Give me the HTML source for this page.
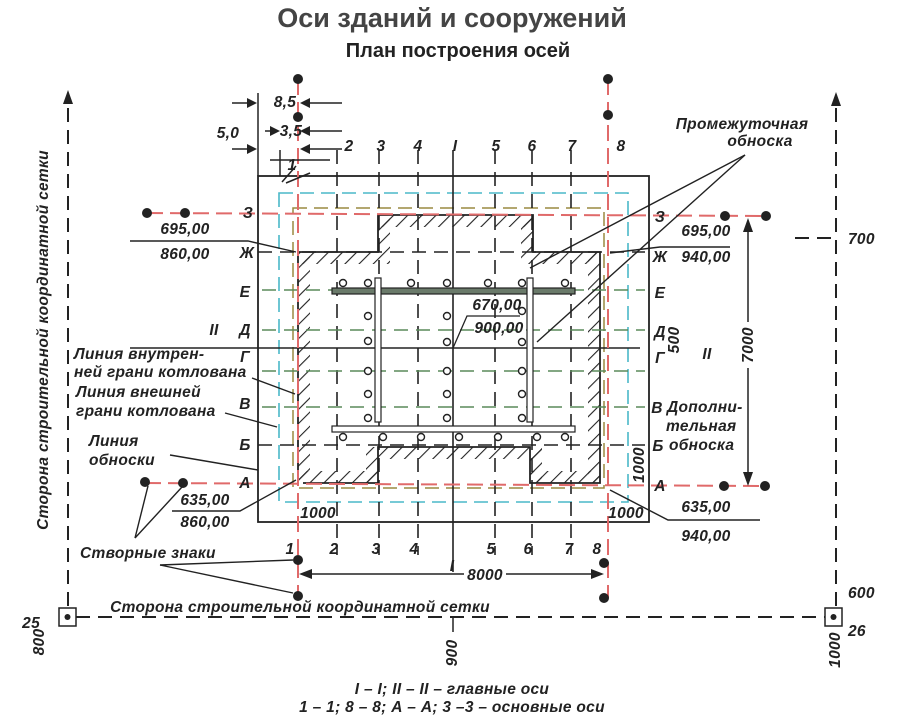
<!DOCTYPE html>
<html><head><meta charset="utf-8"><style>
html,body{margin:0;padding:0;background:#fff}
svg{display:block}
text{font-family:"Liberation Sans",sans-serif;font-weight:bold;font-style:italic;fill:#222;font-size:15.5px;letter-spacing:0.3px}
</style></head><body>
<svg width="924" height="720" viewBox="0 0 924 720" xmlns="http://www.w3.org/2000/svg">
<defs>
<pattern id="h" width="10" height="10" patternUnits="userSpaceOnUse" patternTransform="rotate(45)">
<line x1="0" y1="0" x2="0" y2="10" stroke="#222" stroke-width="2.2"/>
</pattern>
</defs>
<text x="452" y="27" text-anchor="middle" style="font-size:27px;font-style:normal;fill:#444;letter-spacing:0">Оси зданий и сооружений</text>
<text x="458" y="57" text-anchor="middle" style="font-size:20px;font-style:normal;fill:#222;letter-spacing:0">План построения осей</text>

<g stroke="#222" stroke-width="2" stroke-dasharray="14 8" fill="none">
<line x1="68" y1="108" x2="68" y2="606"/>
<line x1="836" y1="108" x2="836" y2="606"/>
<line x1="76" y1="617" x2="826" y2="617"/>
<line x1="795" y1="238" x2="836" y2="238"/>
</g>
<polygon points="68,90 63,104 73,104" fill="#222"/>
<polygon points="836,92 831,106 841,106" fill="#222"/>
<rect x="59" y="608" width="17" height="18" fill="#fff" stroke="#222" stroke-width="1.5"/>
<circle cx="67.5" cy="617" r="3" fill="#222"/>
<rect x="825" y="608" width="17" height="18" fill="#fff" stroke="#222" stroke-width="1.5"/>
<circle cx="833.5" cy="617" r="3" fill="#222"/>
<line x1="453" y1="617" x2="453" y2="632" stroke="#222" stroke-width="1.5"/>
<text x="48" y="340" transform="rotate(-90 48 340)" text-anchor="middle">Сторона строительной координатной сетки</text>
<text x="300" y="612" text-anchor="middle">Сторона строительной координатной сетки</text>
<text x="40" y="628" text-anchor="end">25</text>
<text x="848" y="636">26</text>
<text x="848" y="598">600</text>
<text x="848" y="244">700</text>
<text x="44" y="642" transform="rotate(-90 44 642)" text-anchor="middle">800</text>
<text x="457" y="653" transform="rotate(-90 457 653)" text-anchor="middle">900</text>
<text x="840" y="650" transform="rotate(-90 840 650)" text-anchor="middle">1000</text>

<rect x="258" y="176" width="391" height="346" fill="none" stroke="#222" stroke-width="1.8"/>
<line x1="258" y1="93" x2="258" y2="176" stroke="#222" stroke-width="1.5"/>
<line x1="280" y1="150" x2="280" y2="176" stroke="#222" stroke-width="1.5"/>
<rect x="279" y="193" width="349" height="309" fill="none" stroke="#4ab8c8" stroke-width="1.6" stroke-dasharray="14 7"/>
<rect x="293" y="208" width="311" height="280" fill="none" stroke="#9a8a40" stroke-width="1.5" stroke-dasharray="14 7"/>

<g fill="url(#h)">
<rect x="298" y="252" width="12" height="231"/>
<rect x="298" y="252" width="80" height="12"/>
<rect x="378" y="215" width="12" height="49"/>
<rect x="378" y="215" width="155" height="12"/>
<rect x="521" y="215" width="12" height="49"/>
<rect x="533" y="252" width="67" height="12"/>
<rect x="588" y="252" width="12" height="231"/>
<rect x="530" y="471" width="70" height="12"/>
<rect x="530" y="447" width="12" height="36"/>
<rect x="378" y="447" width="164" height="12"/>
<rect x="366" y="447" width="12" height="36"/>
<rect x="298" y="471" width="80" height="12"/>
</g>
<polyline points="298,483 298,252 378,252 378,215 533,215 533,252 600,252 600,483 530,483 530,447 378,447 378,483 303,483" fill="none" stroke="#222" stroke-width="1.8"/>

<g stroke="#222" stroke-width="1.6" stroke-dasharray="14 8">
<line x1="337" y1="150" x2="337" y2="555"/>
<line x1="379" y1="150" x2="379" y2="555"/>
<line x1="418" y1="150" x2="418" y2="555"/>
<line x1="495" y1="150" x2="495" y2="555"/>
<line x1="532" y1="150" x2="532" y2="555"/>
<line x1="571" y1="150" x2="571" y2="555"/>
</g>
<line x1="453" y1="150" x2="453" y2="572" stroke="#222" stroke-width="1.6"/>
<g stroke="#5a8a5a" stroke-width="1.6" stroke-dasharray="14 8">
<line x1="262" y1="290" x2="645" y2="290"/>
<line x1="262" y1="330" x2="645" y2="330"/>
<line x1="262" y1="371" x2="645" y2="371"/>
<line x1="262" y1="407" x2="645" y2="407"/>
</g>
<g stroke="#222" stroke-width="1.6" stroke-dasharray="14 8">
<line x1="258" y1="252" x2="645" y2="252"/>
<line x1="258" y1="445" x2="645" y2="445"/>
</g>
<line x1="130" y1="348" x2="640" y2="348" stroke="#222" stroke-width="1.6"/>

<g stroke="#e06a6a" stroke-width="2" stroke-dasharray="16 7">
<line x1="298" y1="79" x2="298" y2="598"/>
<line x1="608" y1="79" x2="608" y2="598"/>
<line x1="147" y1="213" x2="766" y2="216"/>
<line x1="145" y1="483" x2="765" y2="486"/>
</g>
<g fill="#222">
<circle cx="298" cy="79" r="5"/><circle cx="298" cy="117" r="5"/>
<circle cx="608" cy="79" r="5"/><circle cx="608" cy="115" r="5"/>
<circle cx="147" cy="213" r="5"/><circle cx="185" cy="213" r="5"/>
<circle cx="725" cy="216" r="5"/><circle cx="766" cy="216" r="5"/>
<circle cx="145" cy="482" r="5"/><circle cx="183" cy="483" r="5"/>
<circle cx="724" cy="486" r="5"/><circle cx="765" cy="486" r="5"/>
<circle cx="298" cy="560" r="5"/><circle cx="298" cy="596" r="5"/>
<circle cx="604" cy="563" r="5"/><circle cx="604" cy="598" r="5"/>
</g>

<rect x="332" y="288" width="243" height="6" fill="#6a7a6a" stroke="#222" stroke-width="1.2"/>
<rect x="332" y="426" width="243" height="6" fill="#fff" stroke="#222" stroke-width="1.2"/>
<rect x="375" y="278" width="6" height="144" fill="#fff" stroke="#222" stroke-width="1.2"/>
<rect x="527" y="278" width="6" height="144" fill="#fff" stroke="#222" stroke-width="1.2"/>
<g fill="#fff" stroke="#222" stroke-width="1.4">
<circle cx="343" cy="283" r="3.5"/><circle cx="368" cy="283" r="3.5"/><circle cx="411" cy="283" r="3.5"/><circle cx="447" cy="283" r="3.5"/><circle cx="488" cy="283" r="3.5"/><circle cx="522" cy="283" r="3.5"/><circle cx="565" cy="283" r="3.5"/>
<circle cx="368" cy="316" r="3.5"/><circle cx="368" cy="341" r="3.5"/><circle cx="368" cy="371" r="3.5"/><circle cx="368" cy="394" r="3.5"/><circle cx="368" cy="418" r="3.5"/>
<circle cx="447" cy="316" r="3.5"/><circle cx="447" cy="342" r="3.5"/><circle cx="447" cy="371" r="3.5"/><circle cx="447" cy="394" r="3.5"/><circle cx="447" cy="418" r="3.5"/>
<circle cx="522" cy="311" r="3.5"/><circle cx="522" cy="342" r="3.5"/><circle cx="522" cy="371" r="3.5"/><circle cx="522" cy="394" r="3.5"/><circle cx="522" cy="418" r="3.5"/>
<circle cx="343" cy="437" r="3.5"/><circle cx="383" cy="437" r="3.5"/><circle cx="421" cy="437" r="3.5"/><circle cx="459" cy="437" r="3.5"/><circle cx="498" cy="437" r="3.5"/><circle cx="537" cy="437" r="3.5"/><circle cx="565" cy="437" r="3.5"/>
</g>
<text x="497" y="310" text-anchor="middle">670,00</text>
<text x="499" y="333" text-anchor="middle">900,00</text>
<polyline points="520,316 467,316 453,348" fill="none" stroke="#222" stroke-width="1.3"/>

<g text-anchor="middle">
<text x="349" y="151">2</text><text x="381" y="151">3</text><text x="418" y="151">4</text><text x="455" y="151">I</text><text x="496" y="151">5</text><text x="532" y="151">6</text><text x="572" y="151">7</text><text x="621" y="151">8</text>
<text x="292" y="170">1</text>
<text x="290" y="554">1</text><text x="334" y="554">2</text><text x="376" y="554">3</text><text x="414" y="554">4</text><text x="491" y="554">5</text><text x="528" y="554">6</text><text x="569" y="554">7</text><text x="597" y="554">8</text>
<text x="248" y="218">З</text><text x="247" y="258">Ж</text><text x="245" y="297">Е</text><text x="245" y="335">Д</text><text x="245" y="362">Г</text><text x="245" y="409">В</text><text x="245" y="450">Б</text><text x="245" y="488">А</text>
<text x="660" y="222">З</text><text x="660" y="262">Ж</text><text x="660" y="298">Е</text><text x="660" y="337">Д</text><text x="660" y="363">Г</text><text x="657" y="413">В</text><text x="658" y="451">Б</text><text x="660" y="491">А</text>
<text x="214" y="335">II</text><text x="707" y="359">II</text>
</g>
<g stroke="#222" stroke-width="1.5">
<line x1="232" y1="103" x2="255" y2="103"/><line x1="303" y1="103" x2="342" y2="103"/>
<line x1="265" y1="131" x2="278" y2="131"/><line x1="303" y1="131" x2="342" y2="131"/>
<line x1="232" y1="149" x2="255" y2="149"/><line x1="303" y1="149" x2="342" y2="149"/>
<line x1="270" y1="160" x2="330" y2="160"/>
<line x1="282" y1="182" x2="296" y2="166"/>
<line x1="310" y1="173" x2="286" y2="183"/>
</g>
<g fill="#222">
<polygon points="257,103 247,98 247,108"/><polygon points="300,103 310,98 310,108"/>
<polygon points="280,131 270,126 270,136"/><polygon points="300,131 310,126 310,136"/>
<polygon points="257,149 247,144 247,154"/><polygon points="300,149 310,144 310,154"/>
</g>
<text x="285" y="107" text-anchor="middle">8,5</text>
<text x="291" y="136" text-anchor="middle">3,5</text>
<text x="228" y="138" text-anchor="middle">5,0</text>

<g stroke="#222" stroke-width="1.4" fill="none">
<polyline points="130,241 248,241 296,252"/>
<polyline points="172,511 240,511 296,480"/>
<polyline points="252,378 295,394"/>
<polyline points="225,413 277,427"/>
<polyline points="170,455 258,470"/>
<polyline points="135,538 148,486"/><polyline points="135,538 182,487"/>
<polyline points="160,565 293,560"/><polyline points="160,565 293,593"/>
<polyline points="745,155 530,268"/><polyline points="745,155 537,342"/>
<polyline points="730,247 660,247 610,253"/>
<polyline points="760,520 668,520 610,490"/>
</g>
<text x="185" y="234" text-anchor="middle">695,00</text>
<text x="185" y="259" text-anchor="middle">860,00</text>
<text x="205" y="505" text-anchor="middle">635,00</text>
<text x="205" y="527" text-anchor="middle">860,00</text>
<text x="74" y="359">Линия внутрен-</text>
<text x="74" y="377">ней грани котлована</text>
<text x="76" y="397">Линия внешней</text>
<text x="76" y="416">грани котлована</text>
<text x="89" y="446">Линия</text>
<text x="89" y="465">обноски</text>
<text x="80" y="558">Створные знаки</text>
<text x="742" y="129" text-anchor="middle">Промежуточная</text>
<text x="760" y="146" text-anchor="middle">обноска</text>
<text x="706" y="236" text-anchor="middle">695,00</text>
<text x="706" y="262" text-anchor="middle">940,00</text>
<text x="706" y="512" text-anchor="middle">635,00</text>
<text x="706" y="541" text-anchor="middle">940,00</text>
<text x="667" y="412">Дополни-</text>
<text x="666" y="431">тельная</text>
<text x="669" y="450">обноска</text>
<text x="679" y="340" transform="rotate(-90 679 340)" text-anchor="middle">500</text>
<text x="644" y="465" transform="rotate(-90 644 465)" text-anchor="middle">1000</text>
<text x="318" y="518" text-anchor="middle">1000</text>
<text x="626" y="518" text-anchor="middle">1000</text>
<line x1="748" y1="224" x2="748" y2="478" stroke="#222" stroke-width="1.5"/>
<polygon points="748,218 743,232 753,232" fill="#222"/>
<polygon points="748,486 743,472 753,472" fill="#222"/>
<rect x="741" y="322" width="14" height="46" fill="#fff"/>
<text x="753" y="345" transform="rotate(-90 753 345)" text-anchor="middle">7000</text>
<line x1="304" y1="574" x2="598" y2="574" stroke="#222" stroke-width="1.5"/>
<polygon points="299,574 312,569 312,579" fill="#222"/>
<polygon points="604,574 591,569 591,579" fill="#222"/>
<rect x="464" y="566" width="42" height="14" fill="#fff"/>
<text x="485" y="580" text-anchor="middle">8000</text>
<text x="452" y="571" text-anchor="middle">I</text>

<text x="452" y="694" text-anchor="middle">I – I; II – II – главные оси</text>
<text x="452" y="712" text-anchor="middle">1 – 1; 8 – 8; А – А; 3 –3 – основные оси</text>
</svg>
</body></html>
